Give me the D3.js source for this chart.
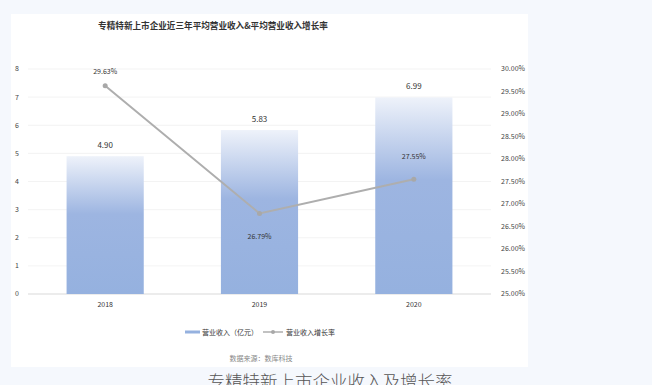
<!DOCTYPE html>
<html>
<head>
<meta charset="utf-8">
<script src="https://cdn.jsdelivr.net/npm/d3@7"></script>
<style>
  body { margin: 0; background: #f5f8fd; }
  svg { display: block; font-family: "Noto Sans CJK SC", "Noto Sans", sans-serif; }
</style>
</head>
<body>
<div id="chart"></div>
<script>
// Chart data
const years = ['2018', '2019', '2020'];
const revenue = [4.90, 5.83, 6.99];          // 营业收入（亿元）
const growth = [29.63, 26.79, 27.55];        // 营业收入增长率 (%)
const leftTicks = [0, 1, 2, 3, 4, 5, 6, 7, 8];
const rightTicks = [25, 25.5, 26, 26.5, 27, 27.5, 28, 28.5, 29, 29.5, 30];

const width = 652, height = 385;
const plot = { left: 28, right: 491, top: 69, bottom: 294 };

const svg = d3.select('#chart').append('svg')
    .attr('width', width)
    .attr('height', height);

// White card
svg.append('rect')
    .attr('x', 11).attr('y', 14)
    .attr('width', 517).attr('height', 353)
    .attr('fill', '#fff');

// Bar gradient
const grad = svg.append('defs').append('linearGradient')
    .attr('id', 'barGrad')
    .attr('x1', 0).attr('y1', 0).attr('x2', 0).attr('y2', 1);
grad.append('stop').attr('offset', 0).attr('stop-color', '#eef2fa');
grad.append('stop').attr('offset', 0.42).attr('stop-color', '#9db5e1');
grad.append('stop').attr('offset', 1).attr('stop-color', '#95b1df');

// Scales
const x = d3.scaleBand().domain(years).range([plot.left, plot.right]).paddingInner(0.5).paddingOuter(0.25);
const yL = d3.scaleLinear().domain([0, 8]).range([plot.bottom, plot.top]);
const yR = d3.scaleLinear().domain([25, 30]).range([plot.bottom, plot.top]);

// Title
svg.append('text')
    .attr('x', 213).attr('y', 29)
    .attr('text-anchor', 'middle')
    .attr('font-size', 8.6).attr('font-weight', 'bold')
    .attr('fill', '#333')
    .text('专精特新上市企业近三年平均营业收入&平均营业收入增长率');

// Gridlines
svg.append('g').selectAll('line')
    .data(leftTicks)
    .join('line')
    .attr('x1', plot.left).attr('x2', plot.right)
    .attr('y1', d => yL(d)).attr('y2', d => yL(d))
    .attr('stroke', d => d === 0 ? '#d9d9d9' : '#f0f0f0')
    .attr('stroke-width', d => d === 0 ? 1.2 : 0.8);

// Left axis labels
svg.append('g').selectAll('text')
    .data(leftTicks)
    .join('text')
    .attr('x', 17).attr('y', d => yL(d))
    .attr('dy', '0.35em')
    .attr('text-anchor', 'middle')
    .attr('font-size', 7).attr('fill', '#444')
    .text(d => d);

// Right axis labels
svg.append('g').selectAll('text')
    .data(rightTicks)
    .join('text')
    .attr('x', 525).attr('y', d => yR(d))
    .attr('dy', '0.35em')
    .attr('text-anchor', 'end')
    .attr('font-size', 7).attr('fill', '#444')
    .text(d => d.toFixed(2) + '%');

// Bars
svg.append('g').selectAll('rect')
    .data(years)
    .join('rect')
    .attr('x', d => x(d))
    .attr('width', x.bandwidth())
    .attr('y', (d, i) => yL(revenue[i]))
    .attr('height', (d, i) => yL(0) - yL(revenue[i]))
    .attr('fill', 'url(#barGrad)');

// Bar labels
svg.append('g').selectAll('text')
    .data(years)
    .join('text')
    .attr('x', d => x(d) + x.bandwidth() / 2)
    .attr('y', (d, i) => yL(revenue[i]) - 8)
    .attr('text-anchor', 'middle')
    .attr('font-size', 8).attr('fill', '#333')
    .text((d, i) => revenue[i].toFixed(2));

// X axis labels
svg.append('g').selectAll('text')
    .data(years)
    .join('text')
    .attr('x', d => x(d) + x.bandwidth() / 2)
    .attr('y', 307)
    .attr('text-anchor', 'middle')
    .attr('font-size', 7).attr('fill', '#333')
    .text(d => d);

// Growth line
const line = d3.line()
    .x((d, i) => x(years[i]) + x.bandwidth() / 2)
    .y(d => yR(d));

svg.append('path')
    .datum(growth)
    .attr('d', line)
    .attr('fill', 'none')
    .attr('stroke', '#aeaeae')
    .attr('stroke-width', 2);

svg.append('g').selectAll('circle')
    .data(growth)
    .join('circle')
    .attr('cx', (d, i) => x(years[i]) + x.bandwidth() / 2)
    .attr('cy', d => yR(d))
    .attr('r', 2.5)
    .attr('fill', '#a8a8a8');

// Growth labels: above for first and last, below for middle
svg.append('g').selectAll('text')
    .data(growth)
    .join('text')
    .attr('x', (d, i) => x(years[i]) + x.bandwidth() / 2)
    .attr('y', (d, i) => i === 1 ? yR(d) + 26 : yR(d) - (i === 0 ? 12 : 20))
    .attr('text-anchor', 'middle')
    .attr('font-size', 7).attr('fill', '#333')
    .text(d => d.toFixed(2) + '%');

// Legend
const legend = svg.append('g').attr('font-size', 7).attr('fill', '#333');
legend.append('rect')
    .attr('x', 185).attr('y', 330.5).attr('width', 15).attr('height', 3)
    .attr('fill', '#95b1df');
legend.append('text')
    .attr('x', 202).attr('y', 334.5)
    .text('营业收入（亿元）');
legend.append('line')
    .attr('x1', 263).attr('x2', 283).attr('y1', 332).attr('y2', 332)
    .attr('stroke', '#aeaeae').attr('stroke-width', 1.5);
legend.append('circle')
    .attr('cx', 273).attr('cy', 332).attr('r', 2)
    .attr('fill', '#a8a8a8');
legend.append('text')
    .attr('x', 286).attr('y', 334.5)
    .text('营业收入增长率');

// Source
svg.append('text')
    .attr('x', 261).attr('y', 360.5)
    .attr('text-anchor', 'middle')
    .attr('font-size', 7).attr('fill', '#888')
    .text('数据来源：数库科技');

// Caption (cut by the bottom edge, as in the source picture)
svg.append('text')
    .attr('x', 330).attr('y', 388)
    .attr('text-anchor', 'middle')
    .attr('font-size', 17.5).attr('font-weight', 300)
    .attr('fill', '#555')
    .text('专精特新上市企业收入及增长率');
</script>
</body>
</html>
